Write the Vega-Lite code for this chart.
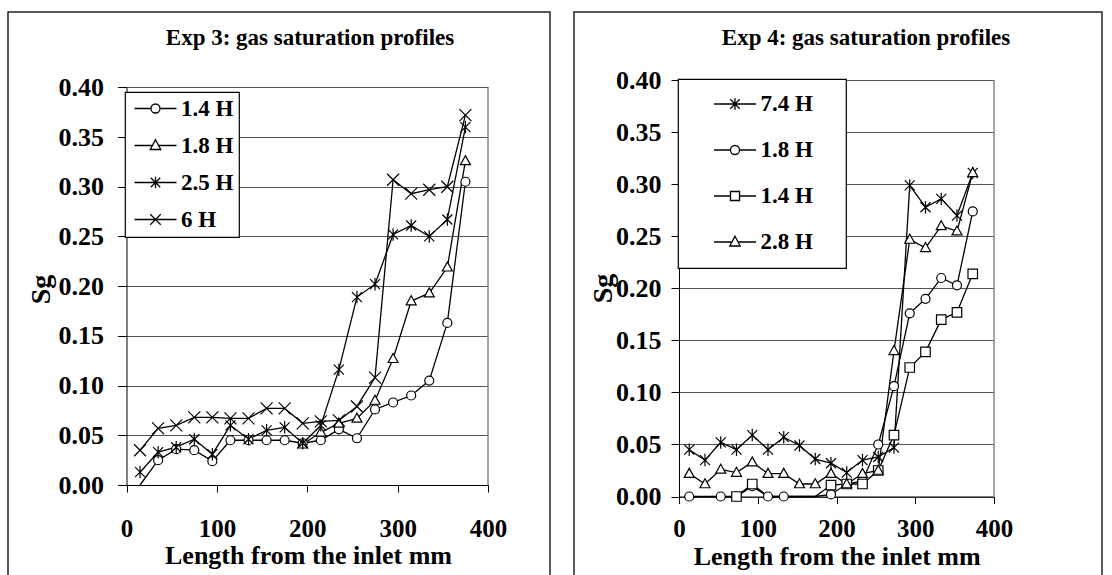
{
  "$schema": "https://vega.github.io/schema/vega-lite/v6.json",
  "background": "white",
  "padding": {"left": 7, "top": 11, "right": 0, "bottom": 0},
  "config": {
    "font": "Liberation Serif",
    "view": {"stroke": "#222", "strokeWidth": 1.5},
    "axis": {
      "labelFont": "Liberation Serif", "labelFontWeight": "bold", "labelColor": "black", "labelFontSize": 25,
      "titleFont": "Liberation Serif", "titleFontWeight": "bold", "titleColor": "black", "titleFontSize": 26,
      "domainColor": "black", "domainWidth": 1, "tickColor": "black", "tickWidth": 1,
      "gridColor": "#555", "gridWidth": 1, "labelOverlap": false, "labelFlush": false, "labelBound": false
    },
    "axisY": {"labelFontSize": 26, "titleFontSize": 28},
    "legend": {"strokeWidth": 1.2},
    "title": {"font": "Liberation Serif", "fontWeight": "bold", "color": "black", "fontSize": 23}
  },
  "datasets": {
    "exp3": [
      {"len": 15, "sg": -0.012, "series": "1.4 H"}, {"len": 35, "sg": 0.025, "series": "1.4 H"}, {"len": 55, "sg": 0.036, "series": "1.4 H"}, {"len": 75, "sg": 0.035, "series": "1.4 H"}, {"len": 95, "sg": 0.024, "series": "1.4 H"}, {"len": 115, "sg": 0.045, "series": "1.4 H"}, {"len": 135, "sg": 0.045, "series": "1.4 H"}, {"len": 155, "sg": 0.045, "series": "1.4 H"}, {"len": 175, "sg": 0.045, "series": "1.4 H"}, {"len": 195, "sg": 0.042, "series": "1.4 H"}, {"len": 215, "sg": 0.045, "series": "1.4 H"}, {"len": 235, "sg": 0.056, "series": "1.4 H"}, {"len": 255, "sg": 0.047, "series": "1.4 H"}, {"len": 275, "sg": 0.076, "series": "1.4 H"}, {"len": 295, "sg": 0.083, "series": "1.4 H"}, {"len": 315, "sg": 0.090, "series": "1.4 H"}, {"len": 335, "sg": 0.105, "series": "1.4 H"}, {"len": 355, "sg": 0.163, "series": "1.4 H"}, {"len": 375, "sg": 0.305, "series": "1.4 H"},
      {"len": 195, "sg": 0.041, "series": "1.8 H"}, {"len": 215, "sg": 0.053, "series": "1.8 H"}, {"len": 235, "sg": 0.062, "series": "1.8 H"}, {"len": 255, "sg": 0.067, "series": "1.8 H"}, {"len": 275, "sg": 0.085, "series": "1.8 H"}, {"len": 295, "sg": 0.127, "series": "1.8 H"}, {"len": 315, "sg": 0.185, "series": "1.8 H"}, {"len": 335, "sg": 0.193, "series": "1.8 H"}, {"len": 355, "sg": 0.219, "series": "1.8 H"}, {"len": 375, "sg": 0.326, "series": "1.8 H"},
      {"len": 15, "sg": 0.013, "series": "2.5 H"}, {"len": 35, "sg": 0.033, "series": "2.5 H"}, {"len": 55, "sg": 0.038, "series": "2.5 H"}, {"len": 75, "sg": 0.046, "series": "2.5 H"}, {"len": 95, "sg": 0.031, "series": "2.5 H"}, {"len": 115, "sg": 0.060, "series": "2.5 H"}, {"len": 135, "sg": 0.046, "series": "2.5 H"}, {"len": 155, "sg": 0.055, "series": "2.5 H"}, {"len": 175, "sg": 0.058, "series": "2.5 H"}, {"len": 195, "sg": 0.042, "series": "2.5 H"}, {"len": 215, "sg": 0.060, "series": "2.5 H"}, {"len": 235, "sg": 0.116, "series": "2.5 H"}, {"len": 255, "sg": 0.189, "series": "2.5 H"}, {"len": 275, "sg": 0.202, "series": "2.5 H"}, {"len": 295, "sg": 0.252, "series": "2.5 H"}, {"len": 315, "sg": 0.261, "series": "2.5 H"}, {"len": 335, "sg": 0.250, "series": "2.5 H"}, {"len": 355, "sg": 0.267, "series": "2.5 H"}, {"len": 375, "sg": 0.360, "series": "2.5 H"},
      {"len": 15, "sg": 0.035, "series": "6 H"}, {"len": 35, "sg": 0.057, "series": "6 H"}, {"len": 55, "sg": 0.060, "series": "6 H"}, {"len": 75, "sg": 0.068, "series": "6 H"}, {"len": 95, "sg": 0.068, "series": "6 H"}, {"len": 115, "sg": 0.067, "series": "6 H"}, {"len": 135, "sg": 0.067, "series": "6 H"}, {"len": 155, "sg": 0.077, "series": "6 H"}, {"len": 175, "sg": 0.077, "series": "6 H"}, {"len": 195, "sg": 0.062, "series": "6 H"}, {"len": 215, "sg": 0.064, "series": "6 H"}, {"len": 235, "sg": 0.065, "series": "6 H"}, {"len": 255, "sg": 0.079, "series": "6 H"}, {"len": 275, "sg": 0.108, "series": "6 H"}, {"len": 295, "sg": 0.307, "series": "6 H"}, {"len": 315, "sg": 0.293, "series": "6 H"}, {"len": 335, "sg": 0.297, "series": "6 H"}, {"len": 355, "sg": 0.300, "series": "6 H"}, {"len": 375, "sg": 0.372, "series": "6 H"}
    ],
    "exp4": [
      {"len": 13, "sg": 0.045, "series": "7.4 H"}, {"len": 33, "sg": 0.035, "series": "7.4 H"}, {"len": 53, "sg": 0.052, "series": "7.4 H"}, {"len": 73, "sg": 0.045, "series": "7.4 H"}, {"len": 93, "sg": 0.059, "series": "7.4 H"}, {"len": 113, "sg": 0.045, "series": "7.4 H"}, {"len": 133, "sg": 0.057, "series": "7.4 H"}, {"len": 153, "sg": 0.049, "series": "7.4 H"}, {"len": 173, "sg": 0.036, "series": "7.4 H"}, {"len": 193, "sg": 0.032, "series": "7.4 H"}, {"len": 213, "sg": 0.023, "series": "7.4 H"}, {"len": 233, "sg": 0.035, "series": "7.4 H"}, {"len": 253, "sg": 0.038, "series": "7.4 H"}, {"len": 273, "sg": 0.047, "series": "7.4 H"}, {"len": 293, "sg": 0.299, "series": "7.4 H"}, {"len": 313, "sg": 0.278, "series": "7.4 H"}, {"len": 333, "sg": 0.286, "series": "7.4 H"}, {"len": 353, "sg": 0.270, "series": "7.4 H"}, {"len": 373, "sg": 0.311, "series": "7.4 H"},
      {"len": 13, "sg": 0.000, "series": "1.8 H"}, {"len": 33, "sg": -0.012, "series": "1.8 H"}, {"len": 53, "sg": 0.000, "series": "1.8 H"}, {"len": 73, "sg": 0.000, "series": "1.8 H"}, {"len": 93, "sg": 0.010, "series": "1.8 H"}, {"len": 113, "sg": 0.000, "series": "1.8 H"}, {"len": 133, "sg": 0.000, "series": "1.8 H"}, {"len": 153, "sg": -0.012, "series": "1.8 H"}, {"len": 173, "sg": -0.012, "series": "1.8 H"}, {"len": 193, "sg": 0.002, "series": "1.8 H"}, {"len": 213, "sg": 0.012, "series": "1.8 H"}, {"len": 233, "sg": 0.015, "series": "1.8 H"}, {"len": 253, "sg": 0.050, "series": "1.8 H"}, {"len": 273, "sg": 0.106, "series": "1.8 H"}, {"len": 293, "sg": 0.176, "series": "1.8 H"}, {"len": 313, "sg": 0.190, "series": "1.8 H"}, {"len": 333, "sg": 0.210, "series": "1.8 H"}, {"len": 353, "sg": 0.203, "series": "1.8 H"}, {"len": 373, "sg": 0.274, "series": "1.8 H"},
      {"len": 73, "sg": 0.000, "series": "1.4 H"}, {"len": 93, "sg": 0.012, "series": "1.4 H"}, {"len": 113, "sg": -0.012, "series": "1.4 H"}, {"len": 133, "sg": -0.012, "series": "1.4 H"}, {"len": 153, "sg": -0.012, "series": "1.4 H"}, {"len": 173, "sg": -0.012, "series": "1.4 H"}, {"len": 193, "sg": 0.011, "series": "1.4 H"}, {"len": 213, "sg": 0.012, "series": "1.4 H"}, {"len": 233, "sg": 0.012, "series": "1.4 H"}, {"len": 253, "sg": 0.025, "series": "1.4 H"}, {"len": 273, "sg": 0.059, "series": "1.4 H"}, {"len": 293, "sg": 0.124, "series": "1.4 H"}, {"len": 313, "sg": 0.139, "series": "1.4 H"}, {"len": 333, "sg": 0.170, "series": "1.4 H"}, {"len": 353, "sg": 0.177, "series": "1.4 H"}, {"len": 373, "sg": 0.214, "series": "1.4 H"},
      {"len": 13, "sg": 0.022, "series": "2.8 H"}, {"len": 33, "sg": 0.012, "series": "2.8 H"}, {"len": 53, "sg": 0.026, "series": "2.8 H"}, {"len": 73, "sg": 0.023, "series": "2.8 H"}, {"len": 93, "sg": 0.033, "series": "2.8 H"}, {"len": 113, "sg": 0.022, "series": "2.8 H"}, {"len": 133, "sg": 0.022, "series": "2.8 H"}, {"len": 153, "sg": 0.012, "series": "2.8 H"}, {"len": 173, "sg": 0.012, "series": "2.8 H"}, {"len": 193, "sg": 0.022, "series": "2.8 H"}, {"len": 213, "sg": 0.012, "series": "2.8 H"}, {"len": 233, "sg": 0.022, "series": "2.8 H"}, {"len": 253, "sg": 0.025, "series": "2.8 H"}, {"len": 273, "sg": 0.140, "series": "2.8 H"}, {"len": 293, "sg": 0.247, "series": "2.8 H"}, {"len": 313, "sg": 0.239, "series": "2.8 H"}, {"len": 333, "sg": 0.260, "series": "2.8 H"}, {"len": 353, "sg": 0.255, "series": "2.8 H"}, {"len": 373, "sg": 0.311, "series": "2.8 H"}
    ]
  },
  "spacing": 22,
  "resolve": {"scale": {"x": "independent", "y": "independent", "shape": "independent"}, "legend": {"shape": "independent"}},
  "hconcat": [
    {
      "width": 542,
      "height": 564,
      "title": {"text": "Exp 3: gas saturation profiles", "anchor": "middle", "frame": "group", "baseline": "middle", "offset": -49, "dx": 31},
      "data": {"name": "exp3"},
      "resolve": {"scale": {"shape": "independent"}},
      "layer": [
        {
          "mark": {"type": "line", "color": "black", "strokeWidth": 1.3},
          "encoding": {
            "x": {"field": "len", "type": "quantitative",
              "scale": {"domain": [0, 400], "range": [118.5, 480], "nice": false, "zero": false},
              "axis": {"orient": "bottom", "offset": -91, "values": [0, 100, 200, 300, 400], "grid": false, "tickSize": 7,
                "labelPadding": 36, "labelBaseline": "middle",
                "title": "Length from the inlet mm", "titleX": 300, "titleY": 70, "titleBaseline": "middle", "titleAlign": "center"}},
            "y": {"field": "sg", "type": "quantitative",
              "scale": {"domain": [0, 0.4], "range": [473, 75.3], "nice": false, "clamp": true},
              "axis": {"orient": "left", "offset": -118.5, "values": [0, 0.05, 0.1, 0.15, 0.2, 0.25, 0.3, 0.35, 0.4], "format": ".2f",
                "grid": true, "tickSize": 9, "labelPadding": 14,
                "title": "Sg", "titleX": -85, "titleY": 277, "titleAngle": 270, "titleBaseline": "middle", "titleAlign": "center"}},
            "detail": {"field": "series"}
          }
        },
        {
          "data": {"values": [{}]},
          "mark": {"type": "rule", "color": "#888", "strokeWidth": 1.5},
          "encoding": {"x": {"datum": 400}, "y": {"datum": 0}, "y2": {"datum": 0.4}}
        },
        {
          "transform": [{"filter": "datum.sg >= 0"}],
          "mark": {"type": "point", "filled": true, "fill": "white", "stroke": "black", "strokeWidth": 1.2, "size": 100, "opacity": 1},
          "encoding": {
            "x": {"field": "len", "type": "quantitative"},
            "y": {"field": "sg", "type": "quantitative"},
            "shape": {"field": "series", "type": "nominal", "legend": null,
              "scale": {"domain": ["1.4 H", "1.8 H", "2.5 H", "6 H"],
                "range": [
                  "M0.9,0A0.9,0.9,0,1,1,-0.9,0A0.9,0.9,0,1,1,0.9,0Z",
                  "M0,-1.05L1,0.75L-1,0.75Z",
                  "M-1,-1L1,1M-1,1L1,-1M0,-1.25V1.25",
                  "M-1.2,-1.2L1.2,1.2M-1.2,1.2L1.2,-1.2"
                ]}}
          }
        },
        {
          "transform": [{"filter": "false"}],
          "mark": {"type": "point", "filled": false, "color": "black", "strokeWidth": 1.3, "size": 441, "opacity": 1},
          "encoding": {
            "x": {"field": "len", "type": "quantitative"},
            "y": {"field": "sg", "type": "quantitative"},
            "shape": {"field": "series", "type": "nominal",
              "scale": {"domain": ["1.4 H", "1.8 H", "2.5 H", "6 H"],
                "range": [
                  "M-2,0H-0.43M0.43,0H2M0.43,0A0.43,0.43,0,1,1,-0.43,0A0.43,0.43,0,1,1,0.43,0Z",
                  "M-2,0H-0.3M0.3,0H2M0,-0.55L0.5,0.38L-0.5,0.38Z",
                  "M-2,0H2M-0.45,-0.45L0.45,0.45M-0.45,0.45L0.45,-0.45M0,-0.55V0.55",
                  "M-2,0H2M-0.5,-0.5L0.5,0.5M-0.5,0.5L0.5,-0.5"
                ]},
              "legend": {"orient": "none", "legendX": 117, "legendY": 80, "title": null, "padding": 5, "rowPadding": 13,
                "strokeColor": "black", "fillColor": "white",
                "symbolSize": 441, "symbolStrokeWidth": 1.3, "symbolStrokeColor": "black", "symbolFillColor": "white", "symbolOpacity": 1,
                "symbolOffset": 14, "labelOffset": 14,
                "labelFont": "Liberation Serif", "labelFontWeight": "bold", "labelFontSize": 23, "labelColor": "black",
                "encode": {"symbols": {"update": {"stroke": {"value": "black"}, "strokeWidth": {"value": 1.3}, "fill": {"value": "white"}, "opacity": {"value": 1}}}}}}
          }
        }
      ]
    },
    {
      "width": 528,
      "height": 564,
      "title": {"text": "Exp 4: gas saturation profiles", "anchor": "middle", "frame": "group", "baseline": "middle", "offset": -49, "dx": 28},
      "data": {"name": "exp4"},
      "resolve": {"scale": {"shape": "independent"}},
      "layer": [
        {
          "mark": {"type": "line", "color": "black", "strokeWidth": 1.3},
          "encoding": {
            "x": {"field": "len", "type": "quantitative",
              "scale": {"domain": [0, 400], "range": [105, 420], "nice": false, "zero": false},
              "axis": {"orient": "bottom", "offset": -79.5, "values": [0, 100, 200, 300, 400], "grid": false, "tickSize": 7,
                "labelPadding": 25, "labelBaseline": "middle",
                "title": "Length from the inlet mm", "titleX": 262.7, "titleY": 60, "titleBaseline": "middle", "titleAlign": "center"}},
            "y": {"field": "sg", "type": "quantitative",
              "scale": {"domain": [0, 0.4], "range": [484.5, 68.3], "nice": false, "clamp": true},
              "axis": {"orient": "left", "offset": -105, "values": [0, 0.05, 0.1, 0.15, 0.2, 0.25, 0.3, 0.35, 0.4], "format": ".2f",
                "grid": true, "tickSize": 8, "labelPadding": 10,
                "title": "Sg", "titleX": -76, "titleY": 276, "titleAngle": 270, "titleBaseline": "middle", "titleAlign": "center"}},
            "detail": {"field": "series"}
          }
        },
        {
          "data": {"values": [{}]},
          "mark": {"type": "rule", "color": "#888", "strokeWidth": 1.5},
          "encoding": {"x": {"datum": 400}, "y": {"datum": 0}, "y2": {"datum": 0.4}}
        },
        {
          "transform": [{"filter": "datum.sg >= 0"}],
          "mark": {"type": "point", "filled": true, "fill": "white", "stroke": "black", "strokeWidth": 1.2, "size": 100, "opacity": 1},
          "encoding": {
            "x": {"field": "len", "type": "quantitative"},
            "y": {"field": "sg", "type": "quantitative"},
            "shape": {"field": "series", "type": "nominal", "legend": null,
              "scale": {"domain": ["7.4 H", "1.8 H", "1.4 H", "2.8 H"],
                "range": [
                  "M-1,-1L1,1M-1,1L1,-1M0,-1.25V1.25",
                  "M0.9,0A0.9,0.9,0,1,1,-0.9,0A0.9,0.9,0,1,1,0.9,0Z",
                  "M-0.95,-0.95H0.95V0.95H-0.95Z",
                  "M0,-1.05L1,0.75L-1,0.75Z"
                ]}}
          }
        },
        {
          "transform": [{"filter": "false"}],
          "mark": {"type": "point", "filled": false, "color": "black", "strokeWidth": 1.3, "size": 441, "opacity": 1},
          "encoding": {
            "x": {"field": "len", "type": "quantitative"},
            "y": {"field": "sg", "type": "quantitative"},
            "shape": {"field": "series", "type": "nominal",
              "scale": {"domain": ["7.4 H", "1.8 H", "1.4 H", "2.8 H"],
                "range": [
                  "M-2,0H2M-0.45,-0.45L0.45,0.45M-0.45,0.45L0.45,-0.45M0,-0.55V0.55",
                  "M-2,0H-0.43M0.43,0H2M0.43,0A0.43,0.43,0,1,1,-0.43,0A0.43,0.43,0,1,1,0.43,0Z",
                  "M-2,0H-0.43M0.43,0H2M-0.43,-0.43H0.43V0.43H-0.43Z",
                  "M-2,0H-0.3M0.3,0H2M0,-0.55L0.5,0.38L-0.5,0.38Z"
                ]},
              "legend": {"orient": "none", "legendX": 104, "legendY": 67, "title": " ", "titleOrient": "right", "titlePadding": 20, "titleFontSize": 10,
                "padding": 13.5, "rowPadding": 22,
                "strokeColor": "black", "fillColor": "white",
                "symbolSize": 441, "symbolStrokeWidth": 1.3, "symbolStrokeColor": "black", "symbolFillColor": "white", "symbolOpacity": 1,
                "symbolOffset": 32, "labelOffset": 14,
                "labelFont": "Liberation Serif", "labelFontWeight": "bold", "labelFontSize": 23, "labelColor": "black",
                "encode": {"symbols": {"update": {"stroke": {"value": "black"}, "strokeWidth": {"value": 1.3}, "fill": {"value": "white"}, "opacity": {"value": 1}}}}}}
          }
        }
      ]
    }
  ]
}
